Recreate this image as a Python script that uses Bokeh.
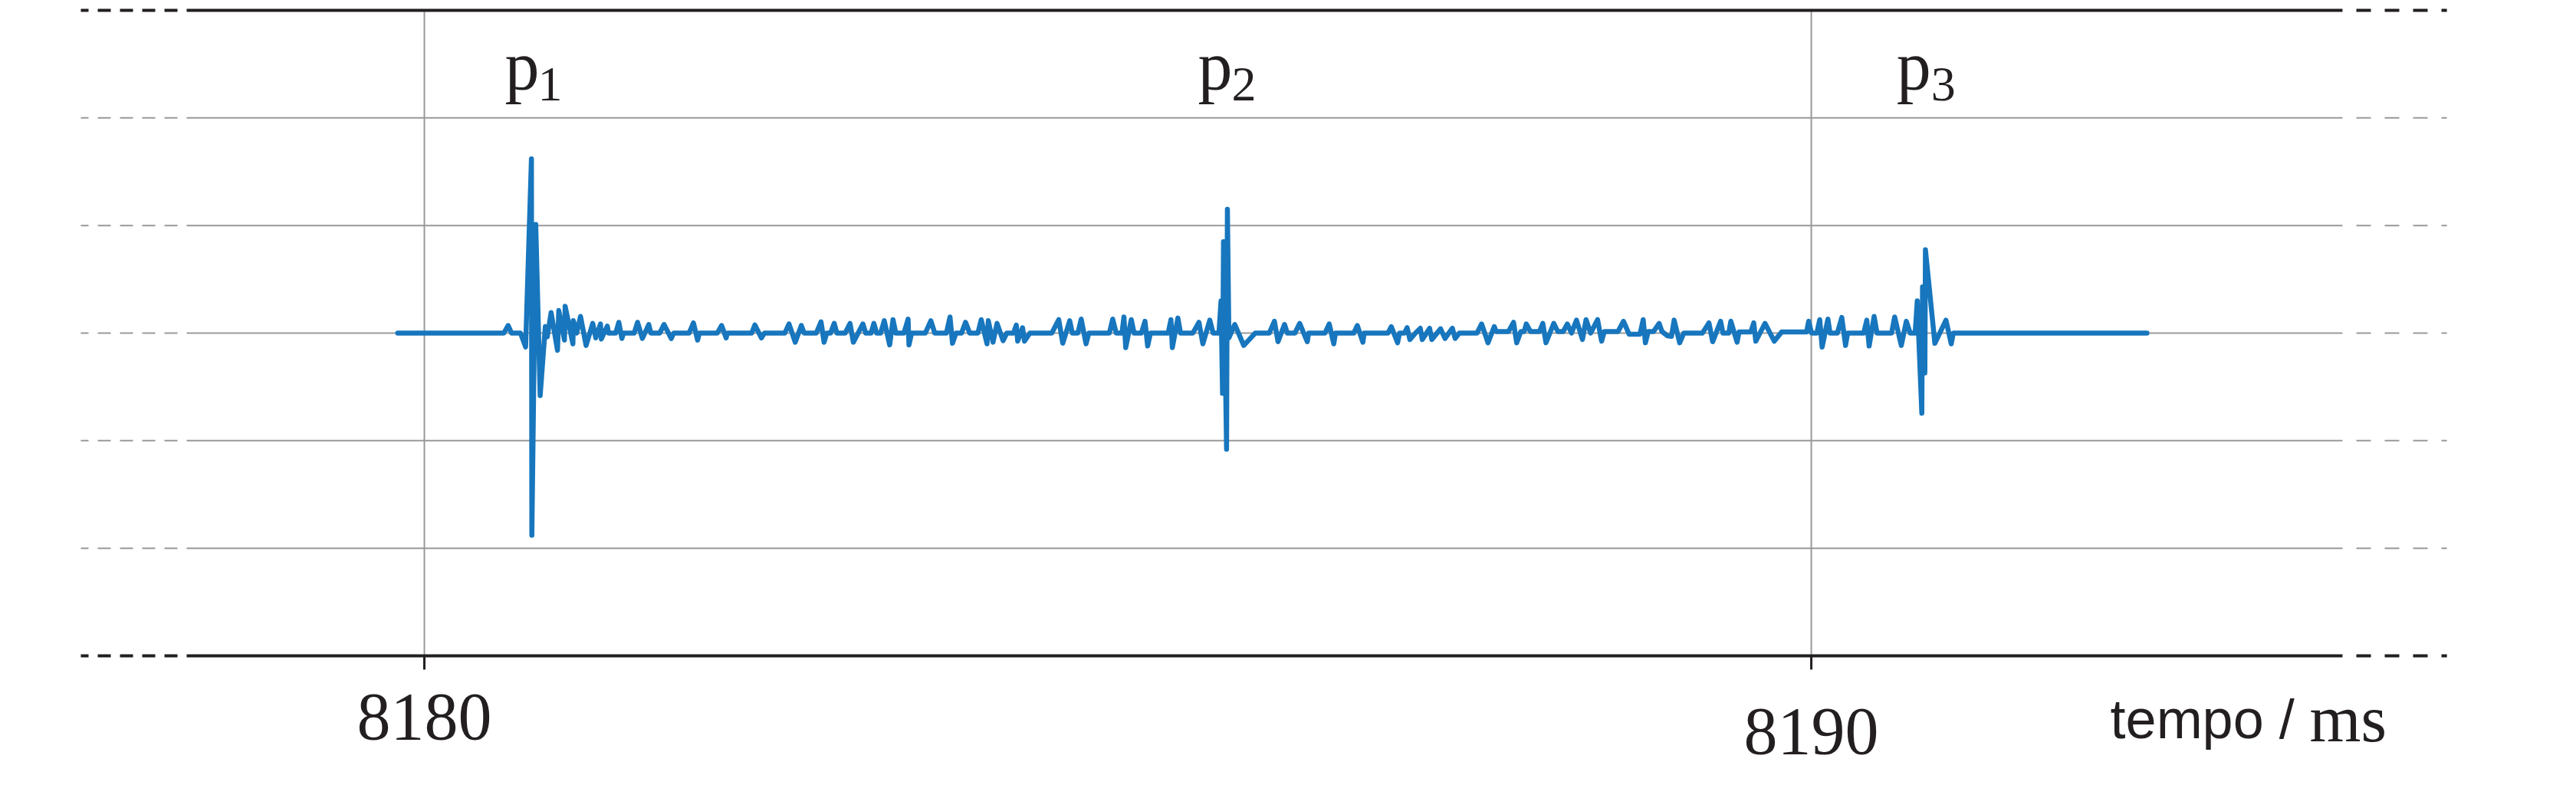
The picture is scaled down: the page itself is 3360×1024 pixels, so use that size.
from bokeh.plotting import figure
from bokeh.models import Range1d, ColumnDataSource
from bokeh.embed import file_html
from bokeh.resources import INLINE
from bokeh.core.properties import value

# ---------------- data (time in ms, amplitude in grid units) ----------------
p1_region = [
    (8179.808, 0), (8180.573, 0), (8180.604, 0.07), (8180.628, 0), (8180.693, 0),
    (8180.730, -0.13), (8180.772, 1.62), (8180.775, -1.88), (8180.803, 1.01), (8180.835, -0.58),
    (8180.872, 0.06), (8180.886, -0.035), (8180.914, 0.19), (8180.960, -0.16), (8180.969, 0.21),
    (8181.010, -0.065), (8181.015, 0.25), (8181.071, -0.10), (8181.074, 0.115), (8181.098, 0),
    (8181.126, 0.155), (8181.166, -0.115), (8181.214, 0.09), (8181.236, -0.045), (8181.270, 0.085),
    (8181.276, -0.055), (8181.319, 0.065), (8181.328, 0), (8181.380, 0), (8181.402, 0.10),
    (8181.424, -0.05), (8181.436, 0), (8181.513, 0), (8181.537, 0.10), (8181.572, -0.05),
    (8181.618, 0.08), (8181.633, 0), (8181.697, 0), (8181.728, 0.08), (8181.780, -0.05),
    (8181.798, 0), (8181.909, 0), (8181.940, 0.095), (8181.970, -0.065), (8181.983, 0),
    (8182.112, 0), (8182.143, 0.07), (8182.176, -0.045), (8182.185, 0), (8182.360, 0),
    (8182.383, 0.075), (8182.430, -0.045), (8182.452, 0),
]
mid_region_1 = [
    (8182.599, 0), (8182.629, 0.085), (8182.674, -0.085), (8182.718, 0.07), (8182.738, 0),
    (8182.826, 0), (8182.860, 0.105), (8182.882, -0.085), (8182.901, 0), (8182.929, 0),
    (8182.955, 0.09), (8182.974, 0), (8183.034, 0), (8183.069, 0.09), (8183.093, -0.085),
    (8183.162, 0.085), (8183.182, 0), (8183.221, 0), (8183.241, 0.09), (8183.261, 0),
    (8183.290, 0), (8183.316, 0.115), (8183.355, -0.11), (8183.379, 0.125), (8183.399, 0),
    (8183.458, 0), (8183.488, 0.13), (8183.494, -0.11), (8183.513, 0), (8183.612, 0),
    (8183.652, 0.115), (8183.680, 0), (8183.764, 0), (8183.790, 0.15), (8183.808, -0.095),
    (8183.833, 0), (8183.873, 0), (8183.902, 0.10), (8183.932, 0), (8183.991, 0),
    (8184.015, 0.125), (8184.057, -0.10), (8184.066, 0.115), (8184.100, -0.085), (8184.129, 0.09),
    (8184.173, -0.07), (8184.199, 0), (8184.248, 0), (8184.268, 0.075), (8184.278, -0.075),
    (8184.313, 0.05), (8184.327, -0.075), (8184.366, 0), (8184.524, 0), (8184.574, 0.125),
    (8184.603, -0.095), (8184.653, 0.115), (8184.672, 0), (8184.712, 0), (8184.736, 0.13),
    (8184.771, -0.10), (8184.791, 0), (8184.939, 0), (8184.963, 0.13), (8184.988, 0),
    (8185.030, 0), (8185.044, 0.15), (8185.057, -0.135), (8185.097, 0.125), (8185.117, 0),
    (8185.170, 0), (8185.196, 0.11), (8185.215, -0.12), (8185.235, 0), (8185.363, 0),
    (8185.383, 0.125), (8185.393, -0.135), (8185.433, 0.14), (8185.452, 0), (8185.541, 0),
]
p2_region = [
    (8185.585, 0.10), (8185.613, -0.10), (8185.663, 0.12), (8185.687, 0), (8185.729, 0),
    (8185.744, 0.30), (8185.755, -0.56), (8185.762, 0.85), (8185.784, -1.08), (8185.790, 1.15),
    (8185.801, -0.045), (8185.843, 0.08), (8185.908, -0.115), (8185.991, 0), (8186.092, 0),
]
mid_region_2 = [
    (8186.129, 0.11), (8186.155, -0.08), (8186.202, 0.08), (8186.222, 0), (8186.277, 0),
    (8186.311, 0.09), (8186.366, -0.08), (8186.376, 0), (8186.494, 0), (8186.524, 0.085),
    (8186.557, -0.10), (8186.569, 0), (8186.701, 0), (8186.727, 0.07), (8186.767, -0.085),
    (8186.776, 0), (8186.948, 0), (8186.972, 0.06), (8187.017, -0.09), (8187.031, 0),
    (8187.067, 0), (8187.086, 0.05), (8187.106, -0.06), (8187.146, 0), (8187.181, 0.045),
    (8187.195, -0.06), (8187.248, 0.045), (8187.264, -0.06), (8187.327, 0.04), (8187.359, -0.05),
    (8187.412, 0.045), (8187.432, -0.05), (8187.462, 0), (8187.590, 0), (8187.623, 0.085),
    (8187.669, -0.09), (8187.714, 0.06), (8187.728, 0.015), (8187.817, 0.015), (8187.853, 0.10),
    (8187.876, -0.09), (8187.906, 0.015), (8187.930, 0.015), (8187.945, 0.085), (8187.975, 0.015),
    (8188.040, 0.015), (8188.064, 0.09), (8188.087, -0.09), (8188.143, 0.09), (8188.172, 0.015),
    (8188.212, 0.015), (8188.241, 0.085), (8188.271, 0), (8188.307, 0.12), (8188.350, -0.06),
    (8188.376, 0.125), (8188.409, 0), (8188.459, 0.125), (8188.488, -0.075), (8188.508, 0.015),
    (8188.607, 0.015), (8188.646, 0.11), (8188.686, -0.01), (8188.765, -0.01), (8188.788, 0.125),
    (8188.804, -0.09), (8188.824, 0.015), (8188.863, 0.015), (8188.903, 0.09), (8188.923, 0.015),
    (8188.962, -0.025), (8188.992, -0.03), (8189.011, 0.12), (8189.051, -0.09), (8189.081, 0),
    (8189.215, 0), (8189.262, 0.095), (8189.289, -0.08), (8189.346, 0.11), (8189.363, 0),
    (8189.405, 0), (8189.420, 0.11), (8189.465, -0.085), (8189.479, 0.01), (8189.564, 0.01),
    (8189.585, 0.095), (8189.600, -0.075), (8189.666, 0.09), (8189.733, -0.075), (8189.786, 0.01),
    (8189.966, 0.01), (8189.981, 0.11), (8190.002, 0), (8190.040, 0), (8190.061, 0.125),
    (8190.078, -0.13), (8190.120, 0.13), (8190.135, 0), (8190.188, 0), (8190.220, 0.145),
    (8190.247, -0.115), (8190.262, 0), (8190.378, 0), (8190.400, 0.12), (8190.417, -0.12),
    (8190.453, 0.155), (8190.474, 0), (8190.579, 0), (8190.601, 0.15), (8190.649, -0.115),
    (8190.685, 0.11), (8190.713, 0), (8190.749, 0),
]
p3_region = [
    (8190.764, 0.30), (8190.797, -0.745), (8190.802, 0.43), (8190.819, -0.37), (8190.823, 0.775),
    (8190.891, -0.095), (8190.971, 0.12), (8191.009, -0.10), (8191.024, 0), (8192.420, 0),
]

x_ticks = [8180, 8190]
x_tick_labels = ["8180", "8190"]
x_tick_label_y = [-3.57, -3.70]
frame_levels = [-3, 3]
grid_levels = [-2, -1, 0, 1, 2]

peak_letters = ["p", "p", "p"]
peak_subscripts = ["1", "2", "3"]
peak_letter_x = [8180.580, 8185.578, 8190.614]
peak_subscript_x = [8180.818, 8185.821, 8190.863]
peak_letter_y = 2.48
peak_subscript_y = 2.31

axis_title_sans = "tempo /"
axis_title_serif = "ms"
axis_title_x = [8192.156, 8193.593]
axis_title_y = -3.59

# ---------------- layout ranges ----------------
X_RANGE = (8176.943, 8195.428)
Y_RANGE = (-4.0903, 3.0926)
SOLID_X = (8178.286, 8193.830)
DASH_LEFT_X = (8178.220, 8177.523)
DASH_RIGHT_X = (8193.930, 8194.583)
TICK_LEN = 0.128

INK = "#231f20"
GRID = "#999999"
BLUE = "#1776bd"

points = p1_region + mid_region_1 + p2_region + mid_region_2 + p3_region
time_ms = [t for t, _ in points]
amplitude = [a for _, a in points]

p = figure(width=3344, height=1008,
           x_range=Range1d(*X_RANGE), y_range=Range1d(*Y_RANGE),
           x_axis_location=None, y_axis_location=None,
           toolbar_location=None, output_backend="svg",
           min_border=0, outline_line_color=None,
           background_fill_color="white", border_fill_color="white")
p.grid.visible = False

def hlines(levels, color, width):
    n = len(levels)
    p.segment(x0=[SOLID_X[0]] * n, y0=levels, x1=[SOLID_X[1]] * n, y1=levels,
              line_color=color, line_width=width)
    p.segment(x0=[DASH_LEFT_X[0]] * n, y0=levels, x1=[DASH_LEFT_X[1]] * n, y1=levels,
              line_color=color, line_width=width, line_dash="17 12")
    p.segment(x0=[DASH_RIGHT_X[0]] * n, y0=levels, x1=[DASH_RIGHT_X[1]] * n, y1=levels,
              line_color=color, line_width=width, line_dash="19 18")

# grid
hlines(grid_levels, GRID, 2)
p.segment(x0=x_ticks, y0=[frame_levels[0]] * len(x_ticks),
          x1=x_ticks, y1=[frame_levels[1]] * len(x_ticks),
          line_color=GRID, line_width=2)

# signal
src = ColumnDataSource(data=dict(t=time_ms, a=amplitude))
p.line("t", "a", source=src, line_color=BLUE, line_width=6.5,
       line_join="round", line_cap="round")

# frame lines and ticks
hlines(frame_levels, INK, 4)
p.segment(x0=x_ticks, y0=[frame_levels[0]] * len(x_ticks),
          x1=x_ticks, y1=[frame_levels[0] - TICK_LEN] * len(x_ticks),
          line_color=INK, line_width=3)

# tick labels
p.text(x=x_ticks, y=x_tick_label_y, text=x_tick_labels,
       text_font=value("Liberation Serif"), text_font_size="88px",
       text_align="center", text_baseline="alphabetic", text_color=INK)

# peak labels
p.text(x=peak_letter_x, y=[peak_letter_y] * 3, text=peak_letters,
       text_font=value("Liberation Serif"), text_font_size="90px",
       text_align="left", text_baseline="alphabetic", text_color=INK)
p.text(x=peak_subscript_x, y=[peak_subscript_y] * 3, text=peak_subscripts,
       text_font=value("Liberation Serif"), text_font_size="64px",
       text_align="left", text_baseline="alphabetic", text_color=INK)

# axis title
p.text(x=[axis_title_x[0]], y=[axis_title_y], text=[axis_title_sans],
       text_font=value("Liberation Sans"), text_font_size="72px",
       text_align="left", text_baseline="alphabetic", text_color=INK)
p.text(x=[axis_title_x[1]], y=[axis_title_y], text=[axis_title_serif],
       text_font=value("Liberation Serif"), text_font_size="86px",
       text_align="left", text_baseline="alphabetic", text_color=INK)

open("out.html", "w").write(file_html(p, INLINE))
